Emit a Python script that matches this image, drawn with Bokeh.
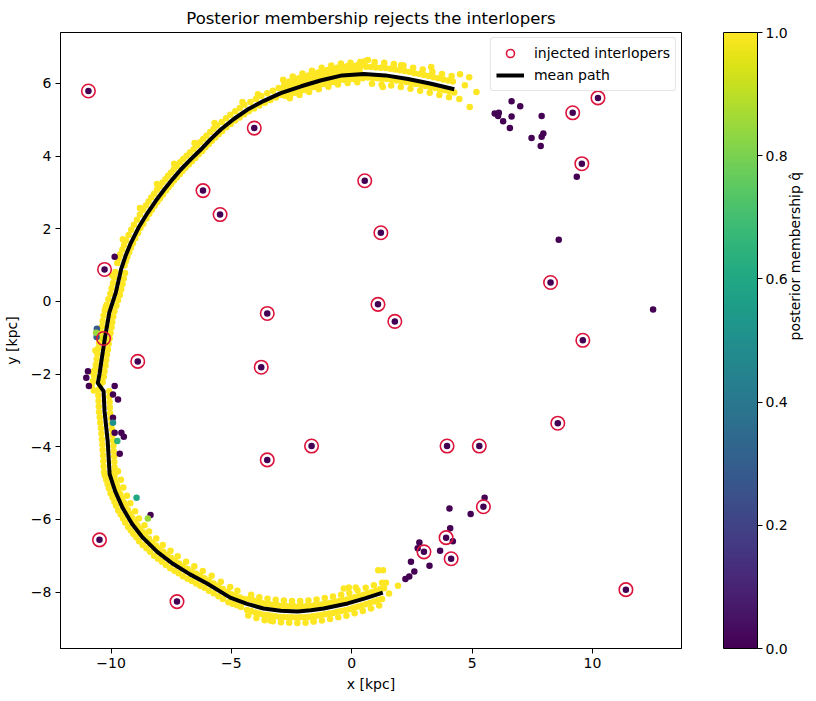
import numpy as np
from bokeh.plotting import figure
from bokeh.models import (ColumnDataSource, LinearColorMapper, ColorBar, FixedTicker,
                          PrintfTickFormatter, Legend, LegendItem, LinearAxis,
                          CustomJSTickFormatter, Range1d)
from bokeh.palettes import Viridis256
from bokeh.transform import transform
from bokeh.embed import file_html
from bokeh.resources import INLINE

FONT = "DejaVu Sans"

# ---------------- data ----------------
x_ticks = [-10, -5, 0, 5, 10]
y_ticks = [-8, -6, -4, -2, 0, 2, 4, 6]
cb_ticks = [0.0, 0.2, 0.4, 0.6, 0.8, 1.0]

# mean stream path
path_x = [4.26, 3.30, 2.34, 1.40, 0.50, -0.40, -1.30, -2.10, -2.95, -3.65, -4.33, -4.90,
          -5.44, -5.87, -6.27, -6.70, -7.10, -7.45, -7.79, -8.14, -8.48, -8.85, -9.17,
          -9.40, -9.58, -9.80, -10.07, -10.24, -10.38, -10.48, -10.55, -10.31, -10.27,
          -10.14, -10.06, -9.83, -9.52, -9.13, -8.68, -8.08, -7.43, -6.72, -6.01, -5.05,
          -4.35, -3.67, -2.95, -2.25, -1.70, -1.17, -0.17, 0.55, 1.29]
path_y = [5.84, 5.99, 6.12, 6.22, 6.26, 6.22, 6.08, 5.92, 5.73, 5.52, 5.28, 5.02,
          4.73, 4.46, 4.18, 3.90, 3.63, 3.36, 3.08, 2.77, 2.44, 2.04, 1.62,
          1.25, 0.89, 0.25, -0.30, -0.95, -1.55, -2.00, -2.25, -2.47, -3.02,
          -3.84, -4.75, -5.22, -5.68, -6.12, -6.50, -6.89, -7.22, -7.51, -7.76, -8.15,
          -8.32, -8.45, -8.51, -8.53, -8.50, -8.45, -8.31, -8.17, -8.01]

# stream members (posterior membership ~1), grouped by stretch of the arc
stream_top = [
    (0.40, 6.50), (0.33, 6.36), (0.45, 6.14), (0.35, 6.59),
    (0.20, 6.49), (0.13, 6.35), (0.25, 6.13), (0.23, 6.03),
    (0.00, 6.48), (-0.07, 6.34), (0.05, 6.12), (-0.05, 6.57),
    (-0.20, 6.47), (-0.27, 6.33), (-0.15, 6.11), (-0.17, 6.01),
    (-0.40, 6.46), (-0.47, 6.32), (-0.35, 6.10), (-0.45, 6.55),
    (-0.60, 6.43), (-0.67, 6.29), (-0.55, 6.07), (-0.57, 5.97),
    (-0.80, 6.40), (-0.87, 6.26), (-0.75, 6.04), (-0.85, 6.49),
    (-1.00, 6.37), (-1.07, 6.23), (-0.95, 6.01), (-0.97, 5.91),
    (-1.20, 6.34), (-1.27, 6.20), (-1.15, 5.98), (-1.25, 6.43),
    (-1.40, 6.30), (-1.47, 6.16), (-1.35, 5.94), (-1.37, 5.84),
    (-1.60, 6.26), (-1.67, 6.12), (-1.55, 5.90), (-1.65, 6.35),
    (-1.80, 6.22), (-1.87, 6.08), (-1.75, 5.86), (-1.77, 5.76),
    (-2.00, 6.18), (-2.07, 6.04), (-1.95, 5.82), (-2.05, 6.27),
    (-2.20, 6.14), (-2.27, 6.00), (-2.15, 5.78), (-2.17, 5.68),
    (-2.40, 6.10), (-2.47, 5.96), (-2.35, 5.74), (-2.45, 6.19),
    (-2.60, 6.05), (-2.67, 5.91), (-2.55, 5.69), (-2.57, 5.59),
    (-2.80, 6.01), (-2.87, 5.87), (-2.75, 5.65), (-2.85, 6.10),
    (0.60, 6.46), (0.66, 6.16), (0.55, 6.61),
    (0.80, 6.45), (0.86, 6.15), (0.84, 5.99),
    (1.00, 6.44), (1.06, 6.14), (0.95, 6.59),
    (1.20, 6.43), (1.26, 6.13), (1.24, 5.97),
    (1.40, 6.42), (1.46, 6.12), (1.35, 6.57),
    (1.60, 6.40), (1.66, 6.10), (1.64, 5.94),
    (1.80, 6.38), (1.86, 6.08), (1.75, 6.53),
    (2.00, 6.36), (2.06, 6.06), (2.04, 5.90),
    (2.20, 6.34), (2.26, 6.04), (2.15, 6.49),
    (2.40, 6.31), (2.46, 6.01), (2.44, 5.85),
    (2.60, 6.28), (2.66, 5.98), (2.55, 6.43),
    (2.80, 6.26), (2.86, 5.96), (2.84, 5.80),
    (3.00, 6.23), (3.06, 5.93), (2.95, 6.38),
    (3.20, 6.20), (3.26, 5.90), (3.24, 5.74),
    (3.40, 6.17), (3.46, 5.87), (3.35, 6.32),
    (3.60, 6.14), (3.66, 5.84), (3.64, 5.68),
    (3.80, 6.11), (3.86, 5.81), (3.75, 6.26),
    (4.00, 6.08), (4.06, 5.78), (4.04, 5.62),
    (4.20, 6.05), (4.26, 5.75), (4.15, 6.20),
    (4.47, 5.57), (4.50, 6.25), (4.88, 6.17), (5.18, 5.76), (4.90, 5.35),
    (4.70, 5.95), (0.67, 6.64), (3.30, 6.45), (2.05, 6.50), (1.29, 5.90),
]
stream_arc = [
    (-3.04, 5.87), (-2.92, 5.68), (-3.28, 5.80), (-3.15, 5.61), (-3.51, 5.73), (-3.38, 5.54),
    (-3.76, 5.65), (-3.61, 5.47), (-3.98, 5.57), (-3.84, 5.39), (-4.21, 5.49), (-4.06, 5.31),
    (-4.46, 5.41), (-4.28, 5.23), (-4.65, 5.32), (-4.47, 5.15), (-4.84, 5.23), (-4.66, 5.06),
    (-5.04, 5.14), (-4.85, 4.98), (-5.22, 5.04), (-5.03, 4.88), (-5.40, 4.94), (-5.21, 4.79),
    (-5.60, 4.84), (-5.38, 4.69), (-5.74, 4.75), (-5.53, 4.60), (-5.88, 4.66), (-5.67, 4.51),
    (-6.04, 4.56), (-5.81, 4.42), (-6.17, 4.47), (-5.94, 4.33), (-6.30, 4.38), (-6.08, 4.24),
    (-6.43, 4.29), (-6.21, 4.14), (-6.57, 4.19), (-6.36, 4.05), (-6.72, 4.10), (-6.50, 3.95),
    (-6.86, 4.01), (-6.64, 3.86), (-7.00, 3.92), (-6.77, 3.77), (-7.13, 3.83), (-6.91, 3.68),
    (-7.27, 3.73), (-7.04, 3.59), (-7.39, 3.64), (-7.15, 3.50), (-7.51, 3.55), (-7.27, 3.41),
    (-7.63, 3.46), (-7.39, 3.33), (-7.74, 3.36), (-7.50, 3.23), (-7.86, 3.27), (-7.61, 3.14),
    (-7.97, 3.17), (-7.72, 3.05), (-8.09, 3.07), (-7.84, 2.94), (-8.21, 2.96), (-7.96, 2.84),
    (-8.33, 2.86), (-8.07, 2.74), (-8.44, 2.75), (-8.19, 2.63), (-8.55, 2.64), (-8.30, 2.52),
    (-8.67, 2.52), (-8.41, 2.41), (-8.80, 2.39), (-8.53, 2.28), (-8.92, 2.25), (-8.66, 2.14),
    (-9.05, 2.11), (-8.78, 2.02), (-9.16, 1.97), (-8.88, 1.88), (-9.27, 1.83), (-8.99, 1.74),
    (-9.38, 1.68), (-9.09, 1.60), (-9.46, 1.55), (-9.17, 1.48), (-9.53, 1.43), (-9.25, 1.35),
    (-9.62, 1.30), (-9.32, 1.23), (-9.68, 1.18), (-9.38, 1.11), (-9.74, 1.06), (-9.44, 0.99),
    (-3.90, 5.70), (-4.54, 5.49), (-5.70, 4.91), (-6.53, 4.36), (-7.38, 3.79), (-8.09, 3.23),
    (-8.80, 2.57), (-9.51, 1.71),
]
stream_left = [
    (-9.82, 0.81), (-9.42, 0.78), (-9.87, 0.66), (-9.47, 0.63),
    (-9.92, 0.51), (-9.52, 0.48), (-9.98, 0.36), (-9.58, 0.33),
    (-10.03, 0.21), (-9.63, 0.18), (-10.11, 0.06), (-9.71, 0.03),
    (-10.18, -0.09), (-9.78, -0.12), (-10.26, -0.24), (-9.86, -0.27),
    (-10.31, -0.39), (-9.91, -0.42), (-10.35, -0.54), (-9.95, -0.57),
    (-10.38, -0.69), (-9.98, -0.72), (-10.42, -0.84), (-10.02, -0.87),
    (-10.46, -0.99), (-10.06, -1.02), (-10.50, -1.14), (-10.10, -1.17),
    (-10.53, -1.29), (-10.13, -1.32), (-10.57, -1.44), (-10.17, -1.47),
    (-10.60, -1.59), (-10.20, -1.62), (-10.63, -1.74), (-10.23, -1.77),
    (-10.67, -1.89), (-10.27, -1.92), (-10.70, -2.04), (-10.30, -2.07),
    (-10.75, -2.19), (-10.35, -2.22),
    (-9.95, 0.72), (-10.22, -0.15), (-10.48, -0.75), (-10.65, -1.35), (-10.80, -1.95),
    (-10.80, -2.30), (-10.72, -2.45), (-10.45, -2.30),
]
stream_lower = [
    (-10.54, -2.44), (-10.08, -2.47), (-10.53, -2.59), (-10.07, -2.62),
    (-10.52, -2.74), (-10.06, -2.77), (-10.51, -2.89), (-10.05, -2.92),
    (-10.50, -3.04), (-10.04, -3.07), (-10.47, -3.19), (-10.01, -3.22),
    (-10.45, -3.34), (-9.99, -3.37), (-10.42, -3.49), (-9.96, -3.52),
    (-10.40, -3.64), (-9.94, -3.67), (-10.38, -3.79), (-9.92, -3.82),
    (-10.36, -3.94), (-9.90, -3.97), (-10.35, -4.09), (-9.89, -4.12),
    (-10.33, -4.24), (-9.87, -4.27), (-10.32, -4.39), (-9.86, -4.42),
    (-10.31, -4.54), (-9.85, -4.57), (-10.29, -4.69), (-9.83, -4.72),
    (-10.26, -4.79), (-9.92, -4.72), (-9.71, -4.67), (-10.20, -4.91), (-9.86, -4.84),
    (-10.14, -5.03), (-9.81, -4.96), (-9.59, -4.91), (-10.09, -5.14), (-9.75, -5.07),
    (-10.02, -5.28), (-9.70, -5.18), (-9.49, -5.12), (-9.94, -5.39), (-9.62, -5.30),
    (-9.86, -5.51), (-9.54, -5.41), (-9.34, -5.35), (-9.79, -5.62), (-9.47, -5.53),
    (-9.70, -5.75), (-9.40, -5.63), (-9.20, -5.55), (-9.60, -5.86), (-9.30, -5.74),
    (-9.50, -5.97), (-9.20, -5.85), (-9.00, -5.77), (-9.41, -6.08), (-9.11, -5.96),
    (-9.29, -6.21), (-9.02, -6.06), (-8.84, -5.97), (-9.18, -6.30), (-8.91, -6.16),
    (-9.07, -6.40), (-8.79, -6.25), (-8.61, -6.16), (-8.95, -6.49), (-8.68, -6.35),
    (-8.83, -6.60), (-8.58, -6.43), (-8.42, -6.33), (-8.68, -6.70), (-8.43, -6.53),
    (-8.53, -6.79), (-8.28, -6.63), (-8.12, -6.52), (-8.38, -6.89), (-8.13, -6.72),
    (-8.21, -7.00), (-7.99, -6.81), (-7.85, -6.70), (-8.05, -7.08), (-7.83, -6.89),
    (-7.88, -7.16), (-7.67, -6.98), (-7.53, -6.86), (-7.72, -7.25), (-7.50, -7.06),
    (-7.54, -7.34), (-7.35, -7.14), (-7.23, -7.01), (-7.36, -7.41), (-7.17, -7.21),
    (-7.19, -7.48), (-7.00, -7.28), (-6.88, -7.16), (-7.01, -7.56), (-6.82, -7.36),
    (-6.82, -7.63), (-6.65, -7.43), (-6.54, -7.29), (-6.64, -7.69), (-6.47, -7.49),
    (-6.46, -7.76), (-6.30, -7.55), (-6.19, -7.42), (-6.29, -7.82), (-6.12, -7.62),
    (-6.12, -7.88), (-5.93, -7.68), (-5.82, -7.55), (-5.93, -7.96), (-5.74, -7.76),
    (-5.74, -8.03), (-5.55, -7.83), (-5.44, -7.71), (-5.54, -8.11), (-5.36, -7.91),
    (-5.35, -8.19), (-5.16, -7.99), (-5.05, -7.86),
    (-5.12, -8.28), (-5.00, -8.06), (-4.95, -8.32), (-4.83, -8.10), (-4.75, -7.96),
    (-4.77, -8.36), (-4.65, -8.15), (-4.60, -8.41), (-4.48, -8.19),
]
stream_bottom = [
    (-4.35, -8.49), (-4.27, -8.19), (-4.30, -8.64),
    (-4.18, -8.52), (-4.10, -8.22), (-4.18, -8.07),
    (-4.01, -8.56), (-3.93, -8.26), (-3.96, -8.71),
    (-3.84, -8.59), (-3.76, -8.29), (-3.84, -8.14),
    (-3.67, -8.62), (-3.59, -8.32), (-3.62, -8.77),
    (-3.50, -8.63), (-3.42, -8.33), (-3.50, -8.18),
    (-3.33, -8.65), (-3.25, -8.35), (-3.28, -8.80),
    (-3.16, -8.66), (-3.08, -8.36), (-3.16, -8.21),
    (-2.99, -8.68), (-2.91, -8.38), (-2.94, -8.83),
    (-2.82, -8.68), (-2.74, -8.38), (-2.82, -8.23),
    (-2.65, -8.69), (-2.57, -8.39), (-2.60, -8.84),
    (-2.48, -8.69), (-2.40, -8.39), (-2.48, -8.24),
    (-2.31, -8.70), (-2.23, -8.40), (-2.26, -8.85),
    (-2.14, -8.69), (-2.06, -8.39), (-2.14, -8.24),
    (-1.97, -8.69), (-1.89, -8.39), (-1.92, -8.84),
    (-1.80, -8.68), (-1.72, -8.38), (-1.80, -8.23),
    (-1.63, -8.66), (-1.55, -8.36), (-1.58, -8.81),
    (-1.46, -8.65), (-1.38, -8.35), (-1.46, -8.20),
    (-1.29, -8.63), (-1.21, -8.33), (-1.24, -8.78),
    (-1.12, -8.61), (-1.04, -8.31), (-1.12, -8.16),
    (-0.95, -8.59), (-0.87, -8.29), (-0.90, -8.74),
    (-0.78, -8.57), (-0.70, -8.27), (-0.78, -8.12),
    (-0.61, -8.54), (-0.53, -8.24), (-0.56, -8.69),
    (-0.44, -8.52), (-0.36, -8.22), (-0.44, -8.07),
    (-0.27, -8.50), (-0.19, -8.20), (-0.22, -8.65),
    (-0.10, -8.47), (-0.02, -8.17), (-0.10, -8.02),
    (0.07, -8.43), (0.15, -8.13), (0.12, -8.58),
    (0.24, -8.40), (0.32, -8.10), (0.24, -7.95),
    (0.41, -8.37), (0.49, -8.07), (0.46, -8.52),
    (0.58, -8.33), (0.66, -8.03), (0.58, -7.88),
    (0.75, -8.30), (0.83, -8.00), (0.80, -8.45),
    (0.92, -8.26), (1.00, -7.96), (0.92, -7.81),
    (1.09, -8.22), (1.17, -7.92), (1.14, -8.37),
    (1.26, -8.19), (1.34, -7.89), (1.26, -7.74),
    (1.10, -7.40), (1.30, -7.40), (1.42, -7.74), (1.92, -7.82), (1.55, -8.04),
    (-0.33, -7.90), (-0.12, -7.87), (0.17, -7.87), (-3.38, -8.78), (-1.59, -8.80),
]

# field stars / low-membership stars that were not injected
field_x = [-9.85, -10.96, -11.03, -10.92, -9.85, -9.92, -9.71, -9.92, -9.85, -9.57,
           -9.47, -9.64, -8.36,
           -10.59, -10.60, -10.62, -9.92, -8.94, -8.47, -9.74,
           6.64, 7.00, 5.94, 6.11, 6.08, 6.29, 6.64, 6.57, 7.89, 7.47, 7.89, 7.96,
           7.85, 9.35, 8.60, 12.52,
           5.52, 4.06, 4.94, 4.09, 4.20, 2.81, 2.74, 3.67, 2.46, 3.23, 2.60, 2.39, 2.23]
field_y = [1.23, -1.92, -2.10, -2.33, -2.33, -2.56, -2.70, -3.20, -3.61, -3.61,
           -3.72, -4.19, -5.88,
           -0.75, -0.98, -0.86, -3.34, -5.40, -5.97, -3.84,
           5.51, 5.37, 5.17, 5.19, 5.10, 4.96, 5.09, 4.77, 5.10, 4.50, 4.53, 4.62,
           4.28, 3.43, 1.70, -0.22,
           -5.40, -5.70, -5.85, -6.24, -6.60, -6.63, -6.79, -6.86, -7.16, -7.27,
           -7.43, -7.57, -7.64]
field_q = [0.0, 0.0, 0.0, 0.0, 0.0, 0.0, 0.0, 0.0, 0.0, 0.0,
           0.0, 0.0, 0.0,
           0.28, 0.30, 0.85, 0.50, 0.60, 0.85, 0.65,
           0.0, 0.0, 0.0, 0.0, 0.0, 0.0, 0.0, 0.0, 0.0, 0.0, 0.0, 0.0,
           0.0, 0.0, 0.0, 0.0,
           0.0, 0.0, 0.0, 0.0, 0.0, 0.0, 0.0, 0.0, 0.0, 0.0, 0.0, 0.0, 0.0]

# injected interlopers
inj_x = [-10.94, -4.05, -6.18, -5.47, 0.54, 1.21, -10.27, -10.31, -8.89, -3.51,
         1.09, 1.79, -3.76, 8.26, 9.60, 9.18, 10.23, 9.56, -1.67, -3.51,
         3.96, 5.30, 8.56, 5.47, 3.92, 3.00, 4.13, 11.39, -10.48, -7.26]
inj_y = [5.79, 4.77, 3.05, 2.39, 3.32, 1.89, 0.88, -1.02, -1.65, -0.33,
         -0.08, -0.55, -1.81, 0.52, -1.07, 5.19, 5.60, 3.79, -3.98, -4.36,
         -3.98, -3.98, -3.35, -5.65, -6.50, -6.89, -7.08, -7.93, -6.56, -8.26]
inj_q = [0.0, 0.0, 0.0, 0.0, 0.0, 0.0, 0.0, 0.95, 0.0, 0.0,
         0.0, 0.0, 0.0, 0.0, 0.0, 0.0, 0.0, 0.0, 0.0, 0.0,
         0.0, 0.0, 0.0, 0.0, 0.0, 0.0, 0.0, 0.0, 0.0, 0.0]

# ---------------- build sources ----------------
stream_pts = stream_top + stream_arc + stream_left + stream_lower + stream_bottom
stream_x = [pt[0] for pt in stream_pts]
stream_y = [pt[1] for pt in stream_pts]
stream_q = [1.0] * len(stream_pts)

all_src = ColumnDataSource(dict(
    x=stream_x + field_x + inj_x,
    y=stream_y + field_y + inj_y,
    q=stream_q + field_q + inj_q,
))
inj_src = ColumnDataSource(dict(x=inj_x, y=inj_y))
path_src = ColumnDataSource(dict(x=path_x, y=path_y))

mapper = LinearColorMapper(palette=Viridis256, low=0.0, high=1.0)

p = figure(width=816, height=701,
           x_range=Range1d(-12.1, 13.7), y_range=Range1d(-9.55, 7.4),
           output_backend="svg", toolbar_location=None,
           min_border_left=60, min_border_right=135,
           min_border_top=32, min_border_bottom=53,
           title="Posterior membership rejects the interlopers")
p.background_fill_color = "white"
p.border_fill_color = "white"
p.grid.visible = False
p.outline_line_color = "black"
p.outline_line_width = 1
p.outline_line_alpha = 1

p.title.align = "center"
p.title.text_font = FONT
p.title.text_font_size = "16.5px"
p.title.text_font_style = "normal"
p.title.text_color = "black"

minus_fmt = "return (tick < 0 ? '\u2212' : '') + Math.abs(tick);"
for ax, lab, ticks in ((p.xaxis[0], "x [kpc]", x_ticks), (p.yaxis[0], "y [kpc]", y_ticks)):
    ax.axis_label = lab
    ax.ticker = FixedTicker(ticks=ticks)
    ax.formatter = CustomJSTickFormatter(code=minus_fmt)
    ax.axis_label_text_font = FONT
    ax.axis_label_text_font_size = "14px"
    ax.axis_label_text_font_style = "normal"
    ax.axis_label_text_color = "black"
    ax.major_label_text_font = FONT
    ax.major_label_text_font_size = "14px"
    ax.major_label_text_color = "black"
    ax.major_tick_in = 0
    ax.major_tick_out = 5
    ax.major_tick_line_color = "black"
    ax.minor_tick_line_color = None
    ax.axis_line_color = "black"
    ax.major_label_standoff = 4
p.xaxis.axis_label_standoff = 5
p.yaxis.axis_label_standoff = 8

p.scatter("x", "y", source=all_src, size=6.5, marker="circle",
          fill_color=transform("q", mapper), line_color=None)
line_r = p.line("x", "y", source=path_src, line_color="black", line_width=4,
                line_join="round")
ring_r = p.scatter("x", "y", source=inj_src, size=13.5, marker="circle",
                   fill_color=None, line_color="crimson", line_width=1.6)

legend = Legend(items=[LegendItem(label="injected interlopers", renderers=[ring_r]),
                       LegendItem(label="mean path", renderers=[line_r])],
                location="top_right", margin=5, padding=5, spacing=2,
                glyph_width=28, glyph_height=20, label_height=20, label_standoff=10,
                label_text_font=FONT, label_text_font_size="14px",
                label_text_color="black",
                border_line_color="#cccccc", border_line_width=1,
                background_fill_alpha=0.8)
try:
    legend.border_radius = 3
except Exception:
    pass
p.add_layout(legend)

# blank spacer between the frame and the colour bar: one tick label made of 3 em spaces
spacer = LinearAxis(ticker=FixedTicker(ticks=[0]),
                    major_label_overrides={0: "\u2003\u2003\u2003"},
                    major_label_text_font=FONT, major_label_text_font_size="13px",
                    major_label_text_color="white", major_label_standoff=0,
                    major_tick_out=0, major_tick_in=0,
                    minor_tick_out=0, minor_tick_in=0,
                    axis_line_color=None, major_tick_line_color=None,
                    minor_tick_line_color=None)
p.add_layout(spacer, "right")

cb = ColorBar(color_mapper=mapper, ticker=FixedTicker(ticks=cb_ticks),
              formatter=PrintfTickFormatter(format="%.1f"),
              width=34, padding=0, margin=0,
              major_tick_in=0, major_tick_out=5, major_tick_line_color="black",
              minor_tick_line_color=None,
              bar_line_color="black", bar_line_width=1,
              label_standoff=3,
              major_label_text_font=FONT, major_label_text_font_size="14px",
              major_label_text_color="black",
              background_fill_alpha=0)
p.add_layout(cb, "right")

lab_axis = LinearAxis(ticker=FixedTicker(ticks=[]), axis_label="posterior membership q\u0302",
                      axis_line_color=None, major_tick_line_color=None,
                      minor_tick_line_color=None, major_tick_out=0, minor_tick_out=0,
                      major_label_standoff=0,
                      axis_label_text_font=FONT, axis_label_text_font_size="14px",
                      axis_label_text_font_style="normal", axis_label_text_color="black",
                      axis_label_standoff=4)
try:
    lab_axis.axis_label_orientation = np.pi / 2
except Exception:
    pass
p.add_layout(lab_axis, "right")

open("out.html", "w", encoding="utf-8").write(file_html(p, INLINE))
